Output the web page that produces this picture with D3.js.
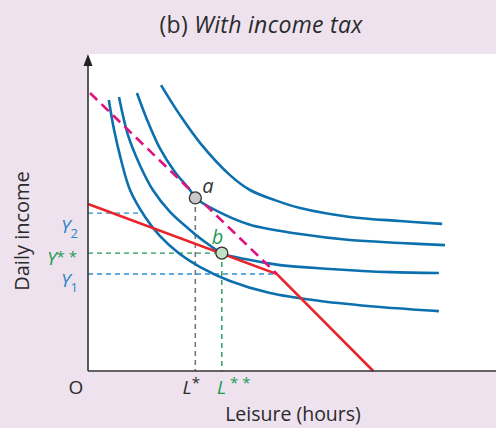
<!DOCTYPE html>
<html><head><meta charset="utf-8">
<script src="https://cdn.jsdelivr.net/npm/d3@7"></script>
<style>body{margin:0;background:#ede2ee;}svg{display:block;font-family:"Open Sans",sans-serif;}</style>
</head><body><svg id="c" width="496" height="428"></svg>
<script>
// Indifference curves (leisure, income) in chart units
const curveD = [[5.1,85.5],[6.4,76.0],[8.1,66.6],[10.3,57.1],[14.0,48.6],[17.6,42.6],[22.5,36.9],[27.5,32.8],[34.8,28.4],[44.6,24.6],[56.9,22.1],[71.6,20.2],[86.0,18.9]];
const curveC = [[7.6,86.4],[9.8,74.4],[12.7,65.0],[15.9,57.1],[20.1,50.2],[25.0,44.5],[28.7,40.7],[32.8,37.2],[38.5,35.3],[47.1,33.4],[59.3,32.2],[74.0,31.2],[86.0,30.9]];
const curveB = [[12.0,87.7],[14.5,79.2],[17.6,70.3],[21.3,62.8],[25.0,57.1],[26.3,54.6],[31.1,50.8],[39.7,46.1],[52.0,43.2],[64.2,41.3],[76.5,40.4],[87.5,39.7]];
const curveA = [[17.9,90.2],[22.5,80.8],[27.5,71.9],[34.8,61.8],[39.7,57.1],[45.8,53.9],[52.0,51.4],[64.2,48.6],[76.5,47.3],[86.8,46.4]];
const indifference = [curveD, curveC, curveB, curveA];
// Budget lines
const preTaxLine = [[0.5,87.7],[46.3,30.6]];
const taxLine = [[0,52.7],[46.3,30.6],[69.9,0]];
// Points and levels
const pointA = {x:26.3, y:54.6, label:"a"};
const pointB = {x:32.8, y:37.2, label:"b"};
const levelY2 = 49.8, levelY1 = 30.6, levelY2end = 13.7;
const title = ["(b) ", "With income tax"];
const xLabel = "Leisure (hours)", yLabel = "Daily income";

const svg = d3.select("#c");
const x = d3.scaleLinear().domain([0,100]).range([88,496]);
const y = d3.scaleLinear().domain([0,100]).range([371,54]);

// white plot background
svg.append("rect").attr("x",x(0)).attr("y",y(100)).attr("width",x(100)-x(0)).attr("height",y(0)-y(100)).attr("fill","#fff");

// title
const t = svg.append("text").attr("x",261).attr("y",33).attr("text-anchor","middle").attr("font-size",23).attr("letter-spacing",0.3).attr("fill","#2a2a2a");
t.append("tspan").text(title[0]);
t.append("tspan").attr("font-style","italic").text(title[1]);

const line = d3.line().x(d=>x(d[0])).y(d=>y(d[1]));
const smooth = d3.line().x(d=>x(d[0])).y(d=>y(d[1])).curve(d3.curveCatmullRom.alpha(0.5));

// dashed guide lines
svg.append("path").attr("d",line([[0,levelY2],[levelY2end,levelY2]])).attr("stroke","#2e8fcf").attr("stroke-width",1.4).attr("stroke-dasharray","5,4").attr("fill","none");
svg.append("path").attr("d",line([[0,levelY1],[46.3,levelY1]])).attr("stroke","#2e8fcf").attr("stroke-width",1.4).attr("stroke-dasharray","5,4").attr("fill","none");
svg.append("path").attr("d",line([[0,pointB.y],[pointB.x,pointB.y]])).attr("stroke","#1f9a55").attr("stroke-width",1.4).attr("stroke-dasharray","5,4").attr("fill","none");
svg.append("path").attr("d",line([[pointB.x,pointB.y],[pointB.x,0]])).attr("stroke","#1f9a55").attr("stroke-width",1.4).attr("stroke-dasharray","5,4").attr("fill","none");
svg.append("path").attr("d",line([[pointA.x,pointA.y],[pointA.x,0]])).attr("stroke","#777").attr("stroke-width",1.6).attr("stroke-dasharray","5,4").attr("fill","none");

// indifference curves
indifference.forEach(c=>{
  svg.append("path").attr("d",smooth(c)).attr("stroke","#0b70ad").attr("stroke-width",2.6).attr("fill","none");
});
// budget lines
svg.append("path").attr("d",line(taxLine)).attr("stroke","#e8252b").attr("stroke-width",2.6).attr("fill","none");
svg.append("path").attr("d",line(preTaxLine)).attr("stroke","#e0127f").attr("stroke-width",2.6).attr("stroke-dasharray","10,6").attr("fill","none");

// points
svg.append("circle").attr("cx",x(pointA.x)).attr("cy",y(pointA.y)).attr("r",6).attr("fill","#c9c9c9").attr("stroke","#333").attr("stroke-width",1.3);
svg.append("circle").attr("cx",x(pointB.x)).attr("cy",y(pointB.y)).attr("r",6).attr("fill","#c5e1c5").attr("stroke","#333").attr("stroke-width",1.3);
svg.append("text").attr("x",x(pointA.x)+7).attr("y",y(pointA.y)-5).attr("font-size",20).attr("font-style","italic").attr("fill","#333").text(pointA.label);
svg.append("text").attr("x",x(pointB.x)-10).attr("y",y(pointB.y)-9).attr("font-size",20).attr("font-style","italic").attr("fill","#1f9a55").text(pointB.label);

// axes
svg.append("line").attr("x1",x(0)).attr("y1",y(0)).attr("x2",x(0)).attr("y2",y(100)+10).attr("stroke","#333").attr("stroke-width",1.6);
svg.append("path").attr("d",`M${x(0)},${y(100)} L${x(0)-4.5},${y(100)+12} L${x(0)+4.5},${y(100)+12} Z`).attr("fill","#222");
svg.append("line").attr("x1",x(0)).attr("y1",y(0)).attr("x2",496).attr("y2",y(0)).attr("stroke","#333").attr("stroke-width",1.6);

// axis labels
svg.append("text").attr("x",76).attr("y",394).attr("text-anchor","middle").attr("font-size",19).attr("fill","#2a2a2a").text("O");
const ls = svg.append("text").attr("x",x(pointA.x)-4).attr("y",394).attr("text-anchor","middle").attr("font-size",19).attr("fill","#2a2a2a");
ls.append("tspan").attr("font-style","italic").text("L");
ls.append("tspan").attr("font-size",15).attr("dy",-6).text("*");
const lss = svg.append("text").attr("x",x(pointB.x)+12).attr("y",394).attr("text-anchor","middle").attr("font-size",19).attr("fill","#1f9a55");
lss.append("tspan").attr("font-style","italic").text("L");
lss.append("tspan").attr("font-size",15).attr("dy",-6).text(" * *");

function yTick(v, sub, color, dy){
  const tx = svg.append("text").attr("x",78).attr("y",y(v)+dy).attr("text-anchor","end").attr("font-size",19).attr("fill",color);
  tx.append("tspan").attr("font-style","italic").text("Y");
  tx.append("tspan").attr("font-size",13).attr("dy",5).text(sub);
}
yTick(levelY2, "2", "#2a86c8", 20);
yTick(levelY1, "1", "#2a86c8", 13);
const ys = svg.append("text").attr("x",77).attr("y",y(pointB.y)+12).attr("text-anchor","end").attr("font-size",19).attr("fill","#1f9a55");
ys.append("tspan").attr("font-style","italic").text("Y");
ys.append("tspan").attr("font-size",15).attr("dy",-3).text("* *");

svg.append("text").attr("x",293).attr("y",421).attr("text-anchor","middle").attr("font-size",19.5).attr("fill","#2a2a2a").text(xLabel);
svg.append("text").attr("transform","translate(29,231) rotate(-90)").attr("text-anchor","middle").attr("font-size",20).attr("fill","#2a2a2a").text(yLabel);
</script></body></html>
